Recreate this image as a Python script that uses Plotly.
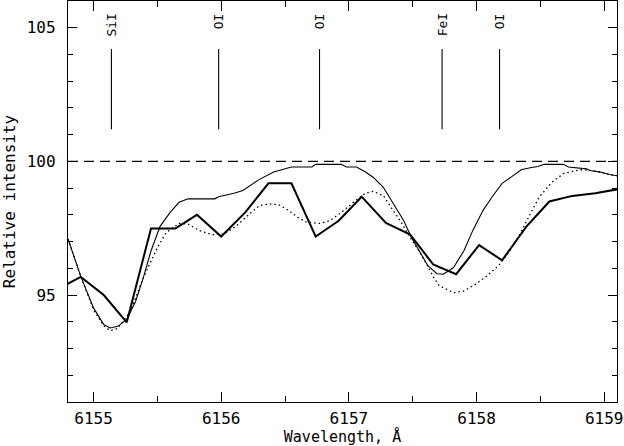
import plotly.graph_objects as go

# observed spectrum (thick polyline)
wl_obs = [6154.72, 6154.90, 6155.08, 6155.26, 6155.45, 6155.64, 6155.81, 6156.00,
          6156.19, 6156.37, 6156.55, 6156.74, 6156.92, 6157.10, 6157.29, 6157.48,
          6157.66, 6157.84, 6158.02, 6158.20, 6158.39, 6158.57, 6158.75, 6158.93, 6159.12]
int_obs = [95.23, 95.68, 95.00, 93.98, 97.49, 97.49, 98.00, 97.19,
           98.10, 99.18, 99.18, 97.19, 97.78, 98.68, 97.70, 97.26,
           96.15, 95.78, 96.87, 96.30, 97.56, 98.50, 98.71, 98.81, 98.97]

# synthetic spectrum 1 (thin solid)
wl_syn1 = [6154.80, 6154.90, 6155.00, 6155.08, 6155.13, 6155.19, 6155.26, 6155.33,
           6155.39, 6155.45, 6155.52, 6155.60, 6155.67, 6155.74, 6155.95, 6155.98,
           6156.10, 6156.17, 6156.29, 6156.41, 6156.55, 6156.71, 6156.74, 6156.94,
           6156.98, 6157.06, 6157.13, 6157.19, 6157.27, 6157.35, 6157.43, 6157.49,
           6157.56, 6157.62, 6157.69, 6157.74, 6157.82, 6157.90, 6157.97, 6158.05,
           6158.12, 6158.20, 6158.27, 6158.35, 6158.42, 6158.48, 6158.53, 6158.68,
           6158.72, 6158.86, 6158.89, 6158.97, 6159.04, 6159.12]
int_syn1 = [97.10, 95.70, 94.52, 93.90, 93.77, 93.83, 94.09, 94.77,
            95.65, 96.65, 97.56, 98.09, 98.47, 98.60, 98.60, 98.68,
            98.81, 98.91, 99.30, 99.60, 99.79, 99.79, 99.89, 99.89,
            99.79, 99.79, 99.60, 99.41, 99.03, 98.41, 97.78, 97.15,
            96.60, 96.09, 95.80, 95.78, 96.03, 96.65, 97.41, 98.16,
            98.66, 99.18, 99.41, 99.69, 99.76, 99.81, 99.89, 99.89,
            99.79, 99.72, 99.66, 99.60, 99.51, 99.45]

# synthetic spectrum 2 (dotted)
wl_syn2 = [6154.80, 6154.90, 6155.00, 6155.08, 6155.13, 6155.19, 6155.29, 6155.39,
           6155.50, 6155.57, 6155.67, 6155.74, 6155.83, 6155.93, 6156.02, 6156.12,
           6156.22, 6156.30, 6156.38, 6156.45, 6156.53, 6156.60, 6156.67, 6156.77,
           6156.85, 6156.96, 6157.05, 6157.13, 6157.19, 6157.27, 6157.33, 6157.41,
           6157.48, 6157.54, 6157.61, 6157.67, 6157.71, 6157.82, 6157.90, 6157.99,
           6158.08, 6158.17, 6158.26, 6158.34, 6158.42, 6158.49, 6158.59, 6158.68,
           6158.76, 6158.83, 6158.89, 6158.97, 6159.04, 6159.12]
int_syn2 = [97.10, 95.70, 94.45, 93.85, 93.67, 93.75, 94.40, 95.65,
            96.78, 97.34, 97.68, 97.66, 97.41, 97.26, 97.28, 97.59,
            98.03, 98.35, 98.41, 98.38, 98.16, 97.91, 97.72, 97.68,
            97.78, 98.16, 98.53, 98.81, 98.88, 98.72, 98.28, 97.72,
            97.15, 96.72, 96.15, 95.60, 95.34, 95.09, 95.15, 95.40,
            95.71, 96.09, 96.65, 97.28, 98.03, 98.66, 99.22, 99.54,
            99.64, 99.69, 99.66, 99.60, 99.51, 99.45]

# line identifications
line_wl = [6155.14, 6155.98, 6156.77, 6157.73, 6158.18]
line_names = ["SiI", "OI", "OI", "FeI", "OI"]
mark_lo, mark_hi = 101.2, 104.2

x_range = [6154.8, 6159.1]
y_range = [91, 106]
continuum = 100

FONT = "DejaVu Sans Mono"

fig = go.Figure()

# continuum level
fig.add_trace(go.Scatter(x=x_range, y=[continuum, continuum], mode="lines",
                         line=dict(color="black", width=1.2, dash="10px,6px"),
                         showlegend=False, hoverinfo="skip"))

# identification tick marks
mx, my = [], []
for w in line_wl:
    mx += [w, w, None]
    my += [mark_lo, mark_hi, None]
fig.add_trace(go.Scatter(x=mx, y=my, mode="lines", line=dict(color="black", width=1.1),
                         showlegend=False, hoverinfo="skip"))

fig.add_trace(go.Scatter(x=wl_syn2, y=int_syn2, mode="lines",
                         line=dict(color="black", width=1.3, dash="1.5px,3px"), showlegend=False))
fig.add_trace(go.Scatter(x=wl_syn1, y=int_syn1, mode="lines",
                         line=dict(color="black", width=1.1), showlegend=False))
fig.add_trace(go.Scatter(x=wl_obs, y=int_obs, mode="lines",
                         line=dict(color="black", width=2), showlegend=False))

for w, name in zip(line_wl, line_names):
    fig.add_annotation(x=w, y=105.6, text=name, textangle=-90, showarrow=False,
                       xanchor="center", yanchor="top",
                       font=dict(family=FONT, size=13, color="black"))

axis_common = dict(
    showline=True, linecolor="black", linewidth=1.3, mirror="allticks",
    ticks="inside", tickcolor="black", tickwidth=1.2,
    showgrid=False, zeroline=False, automargin=False,
    tickfont=dict(family=FONT, size=16, color="black"),
)

fig.update_xaxes(range=x_range, tick0=6155, dtick=1, ticklen=10,
                 minor=dict(dtick=0.5, ticks="inside", ticklen=6, tickcolor="black", tickwidth=1.2),
                 ticklabelstandoff=2,
                 title=dict(text="Wavelength, Å", standoff=3,
                            font=dict(family=FONT, size=15, color="black")),
                 **axis_common)
fig.update_yaxes(range=y_range, tick0=95, dtick=5, ticklen=9,
                 minor=dict(dtick=1, ticks="inside", ticklen=5, tickcolor="black", tickwidth=1.2),
                 ticklabelstandoff=8,
                 title=dict(text="Relative intensity", standoff=14,
                            font=dict(family=FONT, size=16, color="black")),
                 **axis_common)

fig.update_layout(
    width=624, height=446,
    margin=dict(l=68, r=7, t=1, b=44, autoexpand=False),
    plot_bgcolor="white", paper_bgcolor="white",
)

# the page body has a default 8px margin; drop it so the figure sits at the corner
fig.write_html("out.html", config={"displayModeBar": False},
               post_script="document.body.style.margin='0';")
